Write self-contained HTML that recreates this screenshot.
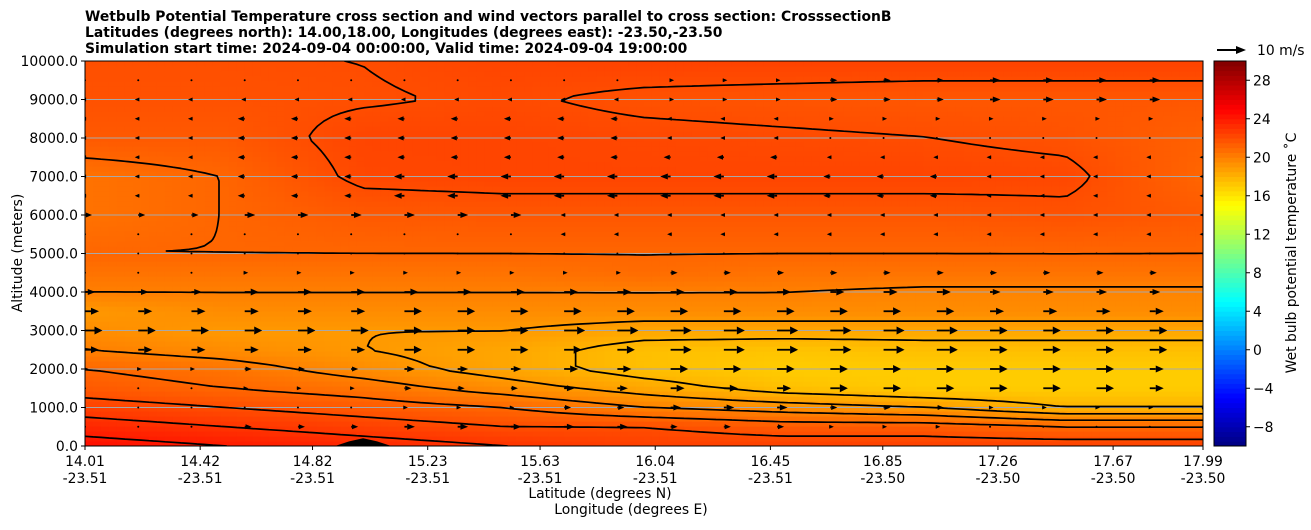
<!DOCTYPE html>
<html><head><meta charset="utf-8">
<style>
html,body{margin:0;padding:0;background:#fff;}
body{width:1311px;height:526px;overflow:hidden;font-family:"DejaVu Sans","Liberation Sans",sans-serif;}
svg text{font-family:"DejaVu Sans","Liberation Sans",sans-serif;}
</style></head>
<body>
<svg id="chart" width="1311" height="526" xmlns="http://www.w3.org/2000/svg">
<g font-size="13.9" font-weight="bold" fill="#000">
<text x="85" y="21">Wetbulb Potential Temperature cross section and wind vectors parallel to cross section: CrosssectionB</text>
<text x="85" y="37">Latitudes (degrees north): 14.00,18.00, Longitudes (degrees east): -23.50,-23.50</text>
<text x="85" y="53">Simulation start time: 2024-09-04 00:00:00, Valid time: 2024-09-04 19:00:00</text>
</g>
<defs><clipPath id="pc"><rect x="85" y="61" width="1118" height="385"/></clipPath></defs>
<g id="fill" clip-path="url(#pc)"></g>
<g id="grid"></g>
<g id="cont" clip-path="url(#pc)"></g>
<g id="terr" clip-path="url(#pc)"></g>
<g id="arrows" clip-path="url(#pc)"></g>
<rect x="85" y="61" width="1118" height="385" fill="none" stroke="#000" stroke-width="1"/>
<g id="axes" font-size="13.9" fill="#000"></g>
<g id="cbar"></g>
<g>
<line x1="1217" y1="50" x2="1238" y2="50" stroke="#000" stroke-width="2"/>
<polygon points="1236,46 1246,50 1236,54" fill="#000"/>
<text x="1257" y="55" font-size="13.9">10 m/s</text>
</g>
</svg>
<script>
// ---- data ----
const lats = [14.0, 14.5, 15.0, 15.5, 16.0, 16.5, 17.0, 17.5, 18.0];
const alts = [0, 500, 1000, 1500, 2000, 2500, 3000, 3500, 4000, 4500, 5000, 6000, 7000, 8000, 9000, 10000];
const temps = [
 [24.5,24,23.5,23,22.5,22.5,22.5,22.5,22.5],
 [23.5,23,22.5,22,22,21.5,21.5,21,21],
 [22.5,22,21.5,21,20,19.5,19,18,18],
 [21.5,21,20.5,19.5,18.5,17.5,17,17,17],
 [21,20.5,19.5,18.5,17.5,17,17,17,17],
 [20,19.5,19,18.5,17.5,17.3,17.5,17.5,17.5],
 [19.5,19,19,19,18.5,18.5,18.5,18.5,18.5],
 [19,19.5,19.5,19.5,19.5,19.5,19.5,19.5,19.5],
 [20,20,20,20,20,20,19.8,19.8,19.8],
 [20.5,20.5,20.5,20.5,20.8,20.5,20.5,20.5,20.5],
 [21,21,21,21,21,21,21,21,21],
 [20.5,21,21.5,21.6,21.6,21.6,21.6,21.8,21.5],
 [20.5,21,22.2,22.3,22.3,22.3,22.3,22.2,21],
 [21.5,21.5,22.3,22.3,22.2,22.1,22,21.8,21.2],
 [21.8,21.8,21.9,22.1,21.8,21.7,21.6,21.6,21.6],
 [21.9,21.9,22,22.3,22.4,22.4,22.4,22.4,22.4]
];
const contourLevels = [16,17,18,19,20,21,22,23,24];
const windAlts = [500,1000,1500,2000,2500,3000,3500,4000,4500,5000,5500,6000,6500,7000,7500,8000,8500,9000,9500];
const windU = [
 [0,2,3,3,2,1,0,0],
 [0,0,1,2,3,2,1,1],
 [0,1,2,3,4,5,5,4],
 [1,2,3,4,5,5,5,4],
 [4,4,5,5,6,6,5,5],
 [5,5,5,6,6,6,5,5],
 [4,4,5,5,5,5,4,4],
 [3,4,4,4,4,4,3,3],
 [0,1,1,1,2,2,2,2],
 [0,0,0,0,0,0,0,0],
 [0,0,0,-1,-1,-1,-1,-1],
 [2,3,3,-1,-1,-1,-1,-1],
 [-1,-2,-3,-3,-3,-2,-1,-1],
 [-1,-2,-3,-3,-3,-2,-1,-1],
 [-1,-2,-2,-2,-2,-1,-1,-1],
 [-1,-2,-2,-2,-1,0,0,0],
 [-1,-2,-2,-2,-1,1,1,1],
 [-1,-1,-1,-1,1,2,3,3],
 [0,0,0,0,1,2,3,3]
];
const terrainLat = [14.90, 14.95, 15.00, 15.05, 15.10];
const terrainAlt = [0, 120, 200, 120, 0];
const yTicks = [0,1000,2000,3000,4000,5000,6000,7000,8000,9000,10000];
const xTickLat = ['14.01','14.42','14.82','15.23','15.63','16.04','16.45','16.85','17.26','17.67','17.99'];
const xTickLon = ['-23.51','-23.51','-23.51','-23.51','-23.51','-23.51','-23.51','-23.50','-23.50','-23.50','-23.50'];
const cbTicks = [-8,-4,0,4,8,12,16,20,24,28];
// ---- scales ----
const X0=85,X1=1203,Y0=446,Y1=61, LATMIN=14.01, LATMAX=17.99;
const xs = v => X0 + (v-LATMIN)/(LATMAX-LATMIN)*(X1-X0);
const ys = v => Y0 - v/10000*(Y0-Y1);
const NS='http://www.w3.org/2000/svg';
function mk(t,a,p){const e=document.createElementNS(NS,t);for(const k in a)e.setAttribute(k,a[k]);p.appendChild(e);return e;}
function jet(T){const t=Math.max(0,Math.min(1,(T+10)/40));const c=v=>Math.round(255*Math.max(0,Math.min(1,v)));
 const r=c(1.5-Math.abs(4*t-3)), g=c(1.5-Math.abs(4*t-2)), b=c(1.5-Math.abs(4*t-1)); return `rgb(${r},${g},${b})`;}
function idx(arr,v){let i=0;while(i<arr.length-2&&v>arr[i+1])i++;const f=(v-arr[i])/(arr[i+1]-arr[i]);return [i,Math.max(0,Math.min(1,f))];}
function T(lat,alt){const [i,fx]=idx(lats,lat),[j,fy]=idx(alts,alt);
 const a=temps[j][i],b=temps[j][i+1],c=temps[j+1][i],d=temps[j+1][i+1];
 return a*(1-fx)*(1-fy)+b*fx*(1-fy)+c*(1-fx)*fy+d*fx*fy;}
// ---- fill ----
const fillG=document.getElementById('fill');
const NX=140,NY=77;
const vals=[];
for(let j=0;j<=NY;j++){vals.push([]);for(let i=0;i<=NX;i++){vals[j].push(T(LATMIN+(LATMAX-LATMIN)*i/NX,10000*j/NY));}}
const cw=(X1-X0)/NX, ch=(Y0-Y1)/NY;
for(let j=0;j<NY;j++)for(let i=0;i<NX;i++){
 const v=(vals[j][i]+vals[j][i+1]+vals[j+1][i]+vals[j+1][i+1])/4;
 mk('rect',{x:(X0+i*cw).toFixed(2),y:(Y0-(j+1)*ch).toFixed(2),width:(cw+0.6).toFixed(2),height:(ch+0.6).toFixed(2),fill:jet(v)},fillG);
}
// ---- grid ----
const gridG=document.getElementById('grid');
yTicks.forEach(v=>{if(v>0&&v<10000){const l=mk('line',{x1:X0,x2:X1,y1:ys(v),y2:ys(v),stroke:'#a8a8a8','stroke-width':1},gridG);

}});
// ---- contours (marching squares) ----
const contG=document.getElementById('cont');
contourLevels.forEach(L0=>{
 const L=L0-0.013;
 let d='';
 const px=i=>X0+i*cw, py=j=>Y0-j*ch;
 for(let j=0;j<NY;j++)for(let i=0;i<NX;i++){
  const a=vals[j][i],b=vals[j][i+1],c=vals[j+1][i+1],e=vals[j+1][i];
  const pts=[];
  const edge=(v1,v2,x1,y1,x2,y2)=>{if((v1<L)!==(v2<L)){const f=(L-v1)/(v2-v1);pts.push([x1+(x2-x1)*f,y1+(y2-y1)*f]);}};
  edge(a,b,px(i),py(j),px(i+1),py(j));
  edge(b,c,px(i+1),py(j),px(i+1),py(j+1));
  edge(c,e,px(i+1),py(j+1),px(i),py(j+1));
  edge(e,a,px(i),py(j+1),px(i),py(j));
  for(let k=0;k+1<pts.length;k+=2)d+=`M${pts[k][0].toFixed(1)},${pts[k][1].toFixed(1)}L${pts[k+1][0].toFixed(1)},${pts[k+1][1].toFixed(1)}`;
 }
 if(d){const p=mk('path',{d:d,stroke:'#000','stroke-width':1.7,fill:'none','stroke-linecap':'round'},contG);
 
 }
});
// ---- terrain ----
const terrG=document.getElementById('terr');
let td='M'+xs(terrainLat[0])+','+ys(0);
terrainLat.forEach((v,k)=>{td+='L'+xs(v).toFixed(1)+','+ys(terrainAlt[k]).toFixed(1);});
td+='Z';
const tp=mk('path',{d:td,fill:'#000'},terrG);


// ---- arrows ----
const arG=document.getElementById('arrows');
const NCOL=22, PXPERMS=3.5;
windAlts.forEach((alt,r)=>{
 for(let c=0;c<NCOL;c++){
  const lat=LATMIN+(LATMAX-LATMIN)*c/(NCOL-1);
  const u=windU[r][Math.min(7,Math.floor(c*8/NCOL))];
  const x=xs(lat), y=ys(alt);
  const len=u*PXPERMS, s=Math.sign(u)||1;
  const g=mk('g',{},arG);
  
  
  if(Math.abs(u)<0.5){mk('circle',{cx:x,cy:y,r:1,fill:'#000'},g);continue;}
  const hl=Math.min(8,Math.abs(len)*0.45+3), hw=Math.min(4,1.5+Math.abs(u)*0.5);
  const tip=x+len;
  mk('line',{x1:x,y1:y,x2:tip-s*hl,y2:y,stroke:'#000','stroke-width':1.8},g);
  mk('polygon',{points:`${tip-s*hl},${y-hw} ${tip},${y} ${tip-s*hl},${y+hw}`,fill:'#000'},g);
 }
});
// ---- axes ----
const ax=document.getElementById('axes');
yTicks.forEach(v=>{const y=ys(v);mk('line',{x1:X0-4,x2:X0,y1:y,y2:y,stroke:'#000'},ax);
 const t=mk('text',{x:X0-7,y:y+5,'text-anchor':'end'},ax);t.textContent=v.toFixed(1);
 
 });
xTickLat.forEach((l,k)=>{const x=xs(parseFloat(l));mk('line',{x1:x,x2:x,y1:Y0,y2:Y0+4,stroke:'#000'},ax);
 const t=mk('text',{x:x,y:Y0+20,'text-anchor':'middle'},ax);t.textContent=l;
 
 
 const t2=mk('text',{x:x,y:Y0+37,'text-anchor':'middle'},ax);t2.textContent=xTickLon[k];
 
 });
const yl=mk('text',{x:0,y:0,transform:'translate(22,253) rotate(-90)','text-anchor':'middle'},ax);yl.textContent='Altitude (meters)';


const xl=mk('text',{x:600,y:498,'text-anchor':'middle'},ax);xl.textContent='Latitude (degrees N)';


const xl2=mk('text',{x:631,y:514,'text-anchor':'middle'},ax);xl2.textContent='Longitude (degrees E)';


// ---- colorbar ----
const cb=document.getElementById('cbar');
const CX=1214,CW=32,CMIN=-10,CMAX=30;
const cys=v=>Y0-(v-CMIN)/(CMAX-CMIN)*(Y0-Y1);
for(let v=CMIN;v<CMAX;v+=0.5){mk('rect',{x:CX,y:cys(v+0.5).toFixed(2),width:CW,height:(cys(v)-cys(v+0.5)+0.5).toFixed(2),fill:jet(v+0.25)},cb);}
mk('rect',{x:CX,y:Y1,width:CW,height:Y0-Y1,fill:'none',stroke:'#000'},cb);
cbTicks.forEach(v=>{const y=cys(v);mk('line',{x1:CX+CW,x2:CX+CW+4,y1:y,y2:y,stroke:'#000'},cb);
 const t=mk('text',{x:CX+CW+7,y:y+5,'font-size':13.9},cb);t.textContent=v<0?'\u2212'+Math.abs(v):String(v);
 
 });
const cl=mk('text',{x:0,y:0,transform:'translate(1296,253) rotate(-90)','text-anchor':'middle','font-size':13.9},cb);cl.textContent='Wet bulb potential temperature \u02DAC';


</script>
</body></html>
